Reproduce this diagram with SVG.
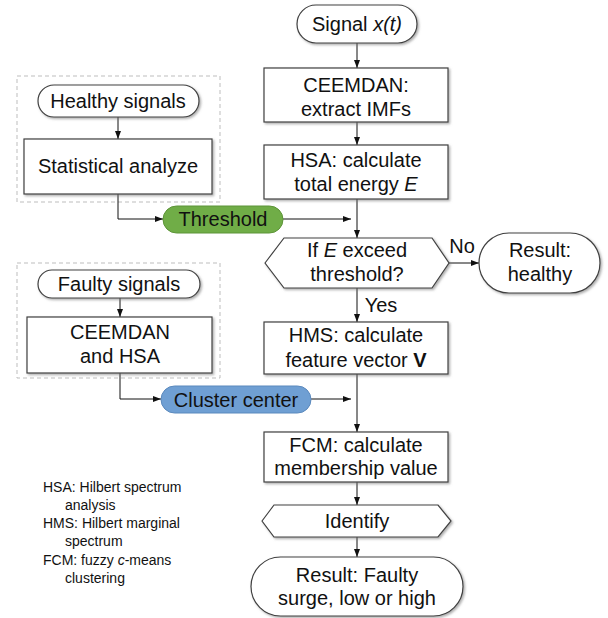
<svg xmlns="http://www.w3.org/2000/svg" width="608" height="618" viewBox="0 0 608 618">
  <style>
    text { font-family: "Liberation Sans", Arial, sans-serif; font-size: 20px; fill: #111; text-anchor: middle; }
    .legend { font-size: 14px; text-anchor: start; }
    .shape { fill: #fff; stroke: #404040; stroke-width: 1.2; filter: url(#shadow); }
    .group { fill: none; stroke: #bdbdbd; stroke-width: 1; stroke-dasharray: 4 3; }
    .conn { fill: none; stroke: #111; stroke-width: 1; marker-end: url(#arrow); }
    .green { fill: #70ad47; stroke: #5d9438; stroke-width: 1; }
    .blue { fill: #6f9fd3; stroke: #5b89bd; stroke-width: 1; }
  </style>
  <defs>
    <marker id="arrow" viewBox="0 0 8 6" refX="8" refY="3" markerWidth="8" markerHeight="6" markerUnits="userSpaceOnUse" orient="auto">
      <path d="M0,0 L8,3 L0,6 Z" fill="#111"/>
    </marker>
    <filter id="shadow" x="-10%" y="-10%" width="130%" height="140%">
      <feDropShadow dx="1.5" dy="1.5" stdDeviation="0.8" flood-color="#777" flood-opacity="0.6"/>
    </filter>
  </defs>

  <rect width="608" height="618" fill="#fff"/>

  <!-- dashed groupings -->
  <rect class="group" x="17" y="76" width="203" height="126"/>
  <rect class="group" x="17" y="263" width="203" height="115"/>

  <!-- connectors -->
  <g id="connectors">
    <path class="conn" d="M357,43 V68"/>
    <path class="conn" d="M357,122 V145"/>
    <path class="conn" d="M357,199 V238"/>
    <path class="conn" d="M357,288 V322"/>
    <path class="conn" d="M357,374 V432"/>
    <path class="conn" d="M357,482 V505"/>
    <path class="conn" d="M357,537 V557"/>
    <path class="conn" d="M449,263 H479"/>
    <path class="conn" d="M118,117 V139"/>
    <path class="conn" d="M118,194 V219 H163"/>
    <path class="conn" d="M283,219 H351"/>
    <path class="conn" d="M120,297 V317"/>
    <path class="conn" d="M120,373 V399 H161"/>
    <path class="conn" d="M311,399 H351"/>
    <text x="462" y="253">No</text>
    <text x="381" y="312">Yes</text>
  </g>

  <g id="signal">
    <rect class="shape" x="297" y="5" width="120" height="38" rx="19"/>
    <text x="357" y="31">Signal <tspan font-style="italic">x(t)</tspan></text>
  </g>

  <g id="ceemdan">
    <rect class="shape" x="264" y="68" width="184" height="54"/>
    <text x="356" y="92">CEEMDAN:</text>
    <text x="356" y="116">extract IMFs</text>
  </g>

  <g id="hsa">
    <rect class="shape" x="264" y="145" width="184" height="54"/>
    <text x="356" y="167">HSA: calculate</text>
    <text x="356" y="191">total energy <tspan font-style="italic">E</tspan></text>
  </g>

  <g id="decision">
    <polygon class="shape" points="265,263 284,238 432,238 449,263 432,288 284,288"/>
    <text x="357" y="257">If <tspan font-style="italic">E</tspan> exceed</text>
    <text x="357" y="281">threshold?</text>
  </g>

  <g id="result-healthy">
    <rect class="shape" x="479" y="233" width="121" height="60" rx="30"/>
    <text x="540" y="257">Result:</text>
    <text x="540" y="281">healthy</text>
  </g>

  <g id="hms">
    <rect class="shape" x="264" y="322" width="184" height="52"/>
    <text x="356" y="342">HMS: calculate</text>
    <text x="356" y="367">feature vector <tspan font-weight="bold">V</tspan></text>
  </g>

  <g id="fcm">
    <rect class="shape" x="264" y="432" width="184" height="50"/>
    <text x="356" y="452">FCM: calculate</text>
    <text x="356" y="475">membership value</text>
  </g>

  <g id="identify">
    <polygon class="shape" points="262,521 274,505 438,505 451,521 438,537 274,537"/>
    <text x="357" y="528">Identify</text>
  </g>

  <g id="result-faulty">
    <rect class="shape" x="251" y="557" width="212" height="59" rx="29.5"/>
    <text x="357" y="582">Result: Faulty</text>
    <text x="357" y="605">surge, low or high</text>
  </g>

  <g id="healthy-signals">
    <rect class="shape" x="38" y="85" width="161" height="32" rx="16"/>
    <text x="118" y="108">Healthy signals</text>
  </g>

  <g id="statistical">
    <rect class="shape" x="24" y="139" width="188" height="55"/>
    <text x="118" y="173">Statistical analyze</text>
  </g>

  <g id="threshold">
    <rect class="green" x="163" y="206" width="120" height="27" rx="13.5"/>
    <text x="223" y="226">Threshold</text>
  </g>

  <g id="faulty-signals">
    <rect class="shape" x="38" y="270" width="162" height="28" rx="14"/>
    <text x="119" y="291">Faulty signals</text>
  </g>

  <g id="ceemdan-hsa">
    <rect class="shape" x="27" y="317" width="185" height="56"/>
    <text x="120" y="339">CEEMDAN</text>
    <text x="120" y="363">and HSA</text>
  </g>

  <g id="cluster-center">
    <rect class="blue" x="161" y="386" width="150" height="27" rx="13.5"/>
    <text x="236" y="407">Cluster center</text>
  </g>

  <g id="legend">
    <text class="legend" x="43" y="492">HSA: Hilbert spectrum</text>
    <text class="legend" x="65" y="510">analysis</text>
    <text class="legend" x="43" y="528">HMS: Hilbert marginal</text>
    <text class="legend" x="65" y="546">spectrum</text>
    <text class="legend" x="43" y="565">FCM: fuzzy <tspan font-style="italic">c</tspan>-means</text>
    <text class="legend" x="65" y="583">clustering</text>
  </g>
</svg>
